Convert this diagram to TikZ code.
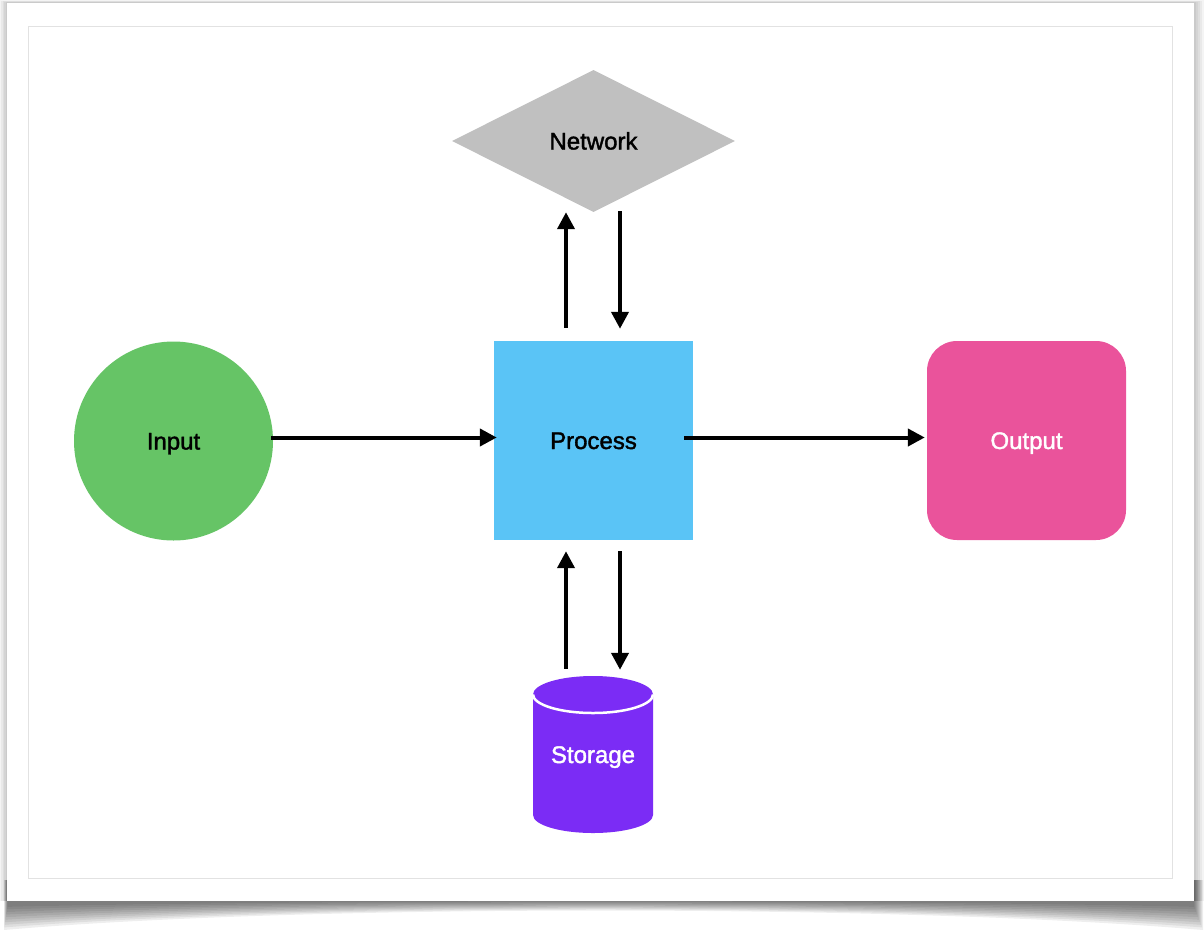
\documentclass[tikz,border=0pt]{standalone}
\usepackage{fontspec}
\setmainfont{Liberation Sans}
\newfontfamily\lblfont{Liberation Sans}[FakeBold=1.6]
\usetikzlibrary{shapes.geometric,arrows.meta}

\definecolor{ingreen}{HTML}{66C466}
\definecolor{procblue}{HTML}{5AC4F6}
\definecolor{outpink}{HTML}{EA539B}
\definecolor{netgray}{HTML}{C0C0C0}
\definecolor{storepurple}{HTML}{7B2CF5}
\definecolor{frameline}{HTML}{E2E2E2}

\tikzset{
  label text/.style={font=\lblfont\fontsize{24}{28}\selectfont, text height=17pt, text depth=0pt, inner sep=0pt},
  blockshape/.style={label text, minimum width=199pt, minimum height=199pt},
  arr/.style={line width=4pt, -{Triangle[length=17pt,width=17pt]}},
}

\begin{document}
\begin{tikzpicture}[x=1pt,y=-1pt]
\useasboundingbox (0,0) rectangle (1204,935);
\fill[white] (0,0) rectangle (1204,935);

% soft shadow around the sheet
\foreach \k in {1,...,5}
  \fill[black,opacity=0.045] (7-1.4*\k,3-0.6*\k) rectangle (1194+2*\k,901);
% curled shadow beneath the sheet
\foreach \k in {1,...,10}
  \fill[black,opacity=0.065] (8-0.4*\k,880) -- (1193+\k,880) -- (1193+\k,904+2.6*\k)
    .. controls (900,899+0.5*\k) and (300,899+0.5*\k) .. (8-0.4*\k,904+2.6*\k) -- cycle;

% sheet and inner frame
\fill[white] (7,3) rectangle (1194,901);
\draw[frameline, line width=1pt] (28,26) rectangle (1172,878);

% storage cylinder body
\fill[storepurple] (533,694.5) -- (533,815)
  arc[start angle=180, end angle=360, x radius=60pt, y radius=18pt]
  -- (653,694.5)
  arc[start angle=0, end angle=180, x radius=60pt, y radius=18.5pt] -- cycle;
\draw[white, line width=2.5pt] (533,694.5)
  arc[start angle=180, end angle=360, x radius=60pt, y radius=18.5pt];

% blocks
\node[blockshape, circle, fill=ingreen, minimum size=199pt] (in) at (173.5,441) {Input};
\node[blockshape, rectangle, fill=procblue] (proc) at (593.5,440.5) {Process};
\node[blockshape, rectangle, rounded corners=30pt, fill=outpink, text=white] (out) at (1026.5,440.5) {Output};
\node[label text, diamond, fill=netgray, minimum width=283pt, minimum height=142pt] (net) at (593.5,141) {Network};
\node[label text, minimum width=120pt, minimum height=157pt, text=white] (store) at (593,754.5) {Storage};

% connectors
\draw[arr] ([xshift=-2pt,yshift=3.5pt]in.east) -- ([xshift=3pt,yshift=3pt]proc.west);
\draw[arr] ([xshift=-9pt,yshift=3pt]proc.east) -- ([xshift=-2pt,yshift=3pt]out.west);
\draw[arr] ([xshift=-27.5pt,yshift=13pt]proc.north) -- ([xshift=-27.5pt]net.south);
\draw[arr] ([xshift=26.5pt,yshift=1pt]net.south) -- ([xshift=26.5pt,yshift=12pt]proc.north);
\draw[arr] ([xshift=-27pt,yshift=7pt]store.north) -- ([xshift=-27.5pt,yshift=-11pt]proc.south);
\draw[arr] ([xshift=26.5pt,yshift=-11pt]proc.south) -- ([xshift=27pt,yshift=6pt]store.north);
\end{tikzpicture}
\end{document}
